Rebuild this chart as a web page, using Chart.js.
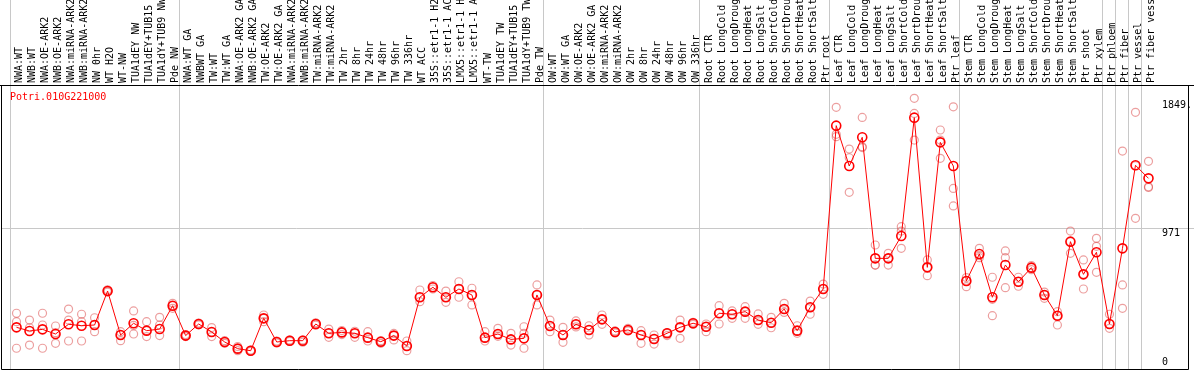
<!DOCTYPE html>
<html>
<head>
<meta charset="utf-8">
<script src="https://cdn.jsdelivr.net/npm/chart.js@4/dist/chart.umd.min.js"></script>
<style>
  html, body { margin: 0; padding: 0; background: #fff; }
  #wrap { width: 1194px; height: 370px; position: relative; }
</style>
</head>
<body>
<div id="wrap"><canvas id="exprChart"></canvas></div>
<script>
// sample names
const categories = [
  "NWA:WT", "NWB:WT", "NWA:OE-ARK2", "NWB:OE-ARK2", "NWA:miRNA-ARK2", "NWB:miRNA-ARK2",
  "NW 0hr", "WT H2O", "WT-NW", "TUA1dEY NW", "TUA1dEY+TUB15 NW", "TUA1dY+TUB9 NW", "Pde NW",
  "NWA:WT GA", "NWBWT GA", "TW:WT", "TW:WT GA", "NWA:OE-ARK2 GA", "NWB:OE-ARK2 GA",
  "TW:OE-ARK2", "TW:OE-ARK2 GA", "NWA:miRNA-ARK2", "NWB:miRNA-ARK2", "TW:miRNA-ARK2",
  "TW:miRNA-ARK2", "TW 2hr", "TW 8hr", "TW 24hr", "TW 48hr", "TW 96hr", "TW 336hr", "WT ACC",
  "35S::etr1-1 H2O", "35S::etr1-1 ACC", "LMX5::etr1-1 H2O", "LMX5::etr1-1 ACC", "WT-TW",
  "TUA1dEY TW", "TUA1dEY+TUB15 TW", "TUA1dY+TUB9 TW", "Pde TW",
  "OW:WT", "OW:WT GA", "OW:OE-ARK2", "OW:OE-ARK2 GA", "OW:miRNA-ARK2", "OW:miRNA-ARK2",
  "OW 2hr", "OW 8hr", "OW 24hr", "OW 48hr", "OW 96hr", "OW 336hr",
  "Root CTR", "Root LongCold", "Root LongDrought", "Root LongHeat", "Root LongSalt",
  "Root ShortCold", "Root ShortDrought", "Root ShortHeat", "Root ShortSalt", "Ptr root",
  "Leaf CTR", "Leaf LongCold", "Leaf LongDrought", "Leaf LongHeat", "Leaf LongSalt",
  "Leaf ShortCold", "Leaf ShortDrought", "Leaf ShortHeat", "Leaf ShortSalt", "Ptr leaf",
  "Stem CTR", "Stem LongCold", "Stem LongDrought", "Stem LongHeat", "Stem LongSalt",
  "Stem ShortCold", "Stem ShortDrought", "Stem ShortHeat", "Stem ShortSalt",
  "Ptr shoot", "Ptr xylem", "Ptr phloem", "Ptr fiber", "Ptr vessel", "Ptr fiber vessel"
];

// mean expression
const meanValues = [
  287, 262, 273, 241, 308, 298, 303, 537, 234, 315, 264, 275, 436,
  230, 310, 255, 186, 140, 126, 349, 186, 195, 195, 310, 246, 252, 246, 216, 188, 230, 158,
  494, 563, 494, 551, 510, 216, 241, 204, 211, 510,
  296, 234, 308, 269, 342, 255, 269, 234, 207, 246, 287, 315,
  291, 384, 377, 395, 337, 319, 413, 264, 425, 551,
  1676, 1398, 1596, 762, 762, 916, 1731, 700, 1561, 1398,
  606, 792, 494, 716, 601, 698, 510, 367, 877, 652,
  804, 310, 831, 1403, 1313
];

// replicates
const rep1 = [
  384, 337, 384, 296, 413, 377, 353, 545, 257, 400, 326, 356, 452,
  237, 316, 285, 195, 155, 130, 372, 193, 200, 200, 318, 275, 265, 260, 257, 195, 245, 193,
  544, 575, 537, 601, 556, 257, 280, 246, 291, 579,
  337, 287, 331, 298, 372, 262, 280, 264, 234, 250, 337, 322,
  310, 436, 400, 429, 379, 356, 452, 298, 468, 585,
  1802, 1515, 1733, 854, 797, 980, 1864, 751, 1646, 1806,
  630, 831, 632, 813, 632, 712, 530, 395, 950, 751,
  900, 377, 1501, 1768, 1430
];
const rep2 = [
  326, 284, 303, 250, 337, 326, 303, 537, 234, 300, 264, 303, 436,
  230, 310, 255, 186, 140, 126, 349, 186, 195, 195, 310, 246, 252, 246, 216, 188, 230, 158,
  494, 563, 494, 551, 510, 216, 241, 204, 246, 510,
  296, 234, 308, 269, 342, 255, 269, 234, 207, 246, 287, 315,
  291, 384, 377, 395, 337, 319, 413, 264, 425, 551,
  1616, 1455, 1531, 716, 762, 950, 1760, 700, 1577, 1244,
  606, 780, 480, 767, 601, 698, 510, 367, 877, 652,
  845, 310, 579, 1400, 1255
];
const rep3 = [
  143, 165, 143, 177, 193, 193, 257, 530, 195, 241, 223, 230, 418,
  223, 304, 223, 177, 126, 122, 326, 179, 190, 185, 302, 218, 237, 218, 193, 177, 200, 126,
  464, 551, 459, 494, 441, 193, 225, 165, 143, 441,
  257, 184, 290, 234, 308, 248, 262, 177, 172, 230, 211, 308,
  257, 310, 349, 349, 308, 284, 390, 246, 377, 514,
  1600, 1217, 1525, 716, 716, 831, 1577, 643, 1451, 1123,
  567, 767, 367, 560, 570, 684, 487, 303, 797, 551,
  666, 280, 418, 1038, 1250
];

// y axis ticks
const yTickValues = [0, 971, 1849];
const yTickLabels = ["0", "971", "1849."];
// boundaries between sample groups (grid line index)
const groupBreaks = [0, 13, 41, 53, 63, 73, 84, 85, 86, 87, 88];
const geneId = "Potri.010G221000";

const GRAY = "#c8c8c8";
const FONT = { family: "'DejaVu Sans Mono', monospace", size: 10 };

// outer frame + gene name
const framePlugin = {
  id: "frame",
  beforeDatasetsDraw(chart) {
    const { ctx, chartArea, scales } = chart;
    const yMid = Math.round(scales.y.getPixelForValue(971)) + 0.5;
    ctx.save();
    ctx.lineWidth = 1;
    ctx.strokeStyle = GRAY;
    ctx.beginPath();
    ctx.moveTo(1, yMid);
    ctx.lineTo(chartArea.left, yMid);
    ctx.stroke();
    ctx.strokeStyle = "#000";
    ctx.beginPath();
    ctx.moveTo(0, chartArea.top + 0.5);
    ctx.lineTo(chart.width, chartArea.top + 0.5);
    ctx.moveTo(1.5, chartArea.top);
    ctx.lineTo(1.5, chartArea.bottom + 0.5);
    ctx.lineTo(1188.5, chartArea.bottom + 0.5);
    ctx.lineTo(1188.5, chartArea.top);
    ctx.stroke();
    ctx.fillStyle = "#ff0000";
    ctx.font = "10px 'DejaVu Sans Mono', monospace";
    ctx.textBaseline = "middle";
    ctx.fillText(geneId, chartArea.left, chartArea.top + 12);
    ctx.restore();
  },
};

function repSet(data) {
  return {
    data: data,
    showLine: false,
    pointStyle: "circle",
    pointRadius: 4,
    pointBorderWidth: 1.2,
    pointBorderColor: "rgba(220, 80, 80, 0.55)",
    pointBackgroundColor: "rgba(0,0,0,0)",
  };
}

const ctx = document.getElementById("exprChart").getContext("2d");
const exprChart = new Chart(ctx, {
  type: "line",
  data: {
    labels: categories,
    datasets: [
      {
        data: meanValues,
        borderColor: "#ff0000",
        borderWidth: 1,
        tension: 0,
        pointStyle: "circle",
        pointRadius: 4.5,
        pointBorderWidth: 1.6,
        pointBorderColor: "#ff0000",
        pointBackgroundColor: "rgba(0,0,0,0)",
      },
      repSet(rep1),
      repSet(rep2),
      repSet(rep3),
    ],
  },
  options: {
    responsive: true,
    maintainAspectRatio: false,
    animation: false,
    layout: { autoPadding: false, padding: { left: 10, right: 0, top: 0, bottom: 1 } },
    plugins: {
      legend: { display: false },
      tooltip: { enabled: false },
    },
    scales: {
      x: {
        type: "category",
        position: "top",
        offset: true,
        border: { display: false },
        grid: {
          offset: true,
          drawTicks: true,
          tickLength: 85,
          lineWidth: 1,
          color: (c) => (groupBreaks.includes(c.index) ? GRAY : "rgba(0,0,0,0)"),
          tickColor: (c) => (groupBreaks.includes(c.index) ? GRAY : "rgba(0,0,0,0)"),
        },
        ticks: {
          autoSkip: false,
          minRotation: 90,
          maxRotation: 90,
          padding: -83,
          labelOffset: 15,
          color: "#000",
          font: FONT,
        },
        afterFit(scale) {
          scale.height = 85;
          scale.paddingLeft = 0;
          scale.paddingRight = 0;
        },
      },
      y: {
        position: "right",
        min: 0,
        max: 1956,
        border: { display: false },
        afterBuildTicks(scale) {
          scale.ticks = yTickValues.map((v) => ({ value: v }));
        },
        grid: {
          drawTicks: true,
          tickLength: 39,
          color: (c) => (c.tick && c.tick.value === 971 ? GRAY : "rgba(0,0,0,0)"),
          tickColor: (c) => (c.tick && c.tick.value === 971 ? GRAY : "rgba(0,0,0,0)"),
        },
        ticks: {
          align: "start",
          padding: -32,
          color: "#000",
          font: FONT,
          callback: function (value) {
            const i = yTickValues.indexOf(value);
            const label = yTickLabels[i];
            // keep the 0 label inside the frame
            return value === 0 ? [label, "", ""] : label;
          },
        },
        afterFit(scale) {
          scale.width = 39;
          scale.paddingTop = 0;
          scale.paddingBottom = 0;
        },
      },
    },
  },
  plugins: [framePlugin],
});
</script>
</body>
</html>
